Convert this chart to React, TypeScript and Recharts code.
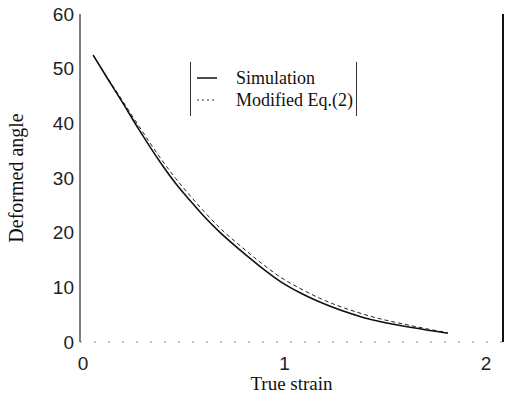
import React from 'react';
import { LineChart, Line, XAxis, YAxis } from 'recharts';

// true strain (x) and deformed angle (y)
const simStrain = [0.05, 0.12, 0.188, 0.277, 0.385, 0.46, 0.533, 0.6, 0.681, 0.78, 0.879, 0.978, 1.077, 1.175, 1.39, 1.64, 1.81];
const simAngle = [52.5, 48.3, 44.3, 38.9, 32.8, 29.0, 25.8, 23.0, 20.0, 16.8, 13.8, 11.1, 9.0, 7.3, 4.5, 2.6, 1.6];

const eqStrain = [0.05, 0.12, 0.188, 0.277, 0.385, 0.46, 0.533, 0.6, 0.681, 0.78, 0.879, 0.978, 1.077, 1.175, 1.39, 1.64, 1.81];
const eqAngle = [52.5, 48.4, 44.6, 39.5, 33.6, 29.9, 26.7, 23.9, 20.8, 17.6, 14.6, 11.9, 9.8, 8.0, 5.1, 2.9, 1.7];

const xTicks = [0, 1, 2];
const yTicks = [0, 10, 20, 30, 40, 50, 60];
const legendNames = ['Simulation', 'Modified Eq.(2)'];

const simData = simStrain.map((x, i) => ({ x, y: simAngle[i] }));
const eqData = eqStrain.map((x, i) => ({ x, y: eqAngle[i] }));

const serif = '"Liberation Serif", "Times New Roman", serif';
const sans = '"Liberation Sans", Arial, sans-serif';

const LegendBox = () => (
  <div
    style={{
      position: 'absolute',
      left: 190,
      top: 62,
      borderLeft: '1px solid #333',
      borderRight: '1px solid #333',
      padding: '5px 3px 5px 6px',
      fontFamily: serif,
      fontSize: 18,
      color: '#111',
      lineHeight: '22px',
    }}
  >
    <div style={{ display: 'flex', alignItems: 'center' }}>
      <svg width={22} height={10} style={{ marginRight: 17 }}>
        <line x1={0} y1={5} x2={20} y2={5} stroke="#111" strokeWidth={1.5} />
      </svg>
      {legendNames[0]}
    </div>
    <div style={{ display: 'flex', alignItems: 'center' }}>
      <svg width={22} height={10} style={{ marginRight: 17 }}>
        <line x1={0} y1={5} x2={20} y2={5} stroke="#333" strokeWidth={1} strokeDasharray="2 3" />
      </svg>
      {legendNames[1]}
    </div>
  </div>
);

export default function App() {
  return (
    <div style={{ position: 'absolute', left: 0, top: 0, width: 507, height: 395, background: '#fff' }}>
      <LineChart width={507} height={395} margin={{ top: 14, right: 2, bottom: 0, left: 0 }}>
        <XAxis
          type="number"
          dataKey="x"
          domain={[-0.015, 2.084]}
          ticks={xTicks}
          allowDataOverflow
          height={53}
          tickLine={false}
          tickMargin={9}
          axisLine={{ stroke: '#888', strokeDasharray: '2 12' }}
          tick={{ fontFamily: sans, fontSize: 19, fill: '#222' }}
          label={{ value: 'True strain', position: 'insideBottom', offset: 5, fontFamily: serif, fontSize: 19, fill: '#111' }}
        />
        <YAxis
          type="number"
          domain={[0, 60]}
          ticks={yTicks}
          width={80}
          tickLine={false}
          tickMargin={0}
          axisLine={{ stroke: '#555', strokeWidth: 1.5 }}
          tick={{ fontFamily: sans, fontSize: 19, fill: '#222' }}
          label={{ value: 'Deformed angle', angle: -90, position: 'insideLeft', offset: 16, fontFamily: serif, fontSize: 20, fill: '#111', style: { textAnchor: 'middle' } }}
        />
        <YAxis
          yAxisId="r"
          orientation="right"
          type="number"
          domain={[0, 60]}
          width={2}
          tick={false}
          tickLine={false}
          axisLine={{ stroke: '#111', strokeWidth: 2 }}
        />
        <Line
          data={eqData}
          dataKey="y"
          type="monotone"
          stroke="#222"
          strokeWidth={1}
          strokeDasharray="4 3"
          dot={false}
          isAnimationActive={false}
        />
        <Line
          data={simData}
          dataKey="y"
          type="monotone"
          stroke="#111"
          strokeWidth={1.6}
          dot={false}
          isAnimationActive={false}
        />
      </LineChart>
      <LegendBox />
    </div>
  );
}
